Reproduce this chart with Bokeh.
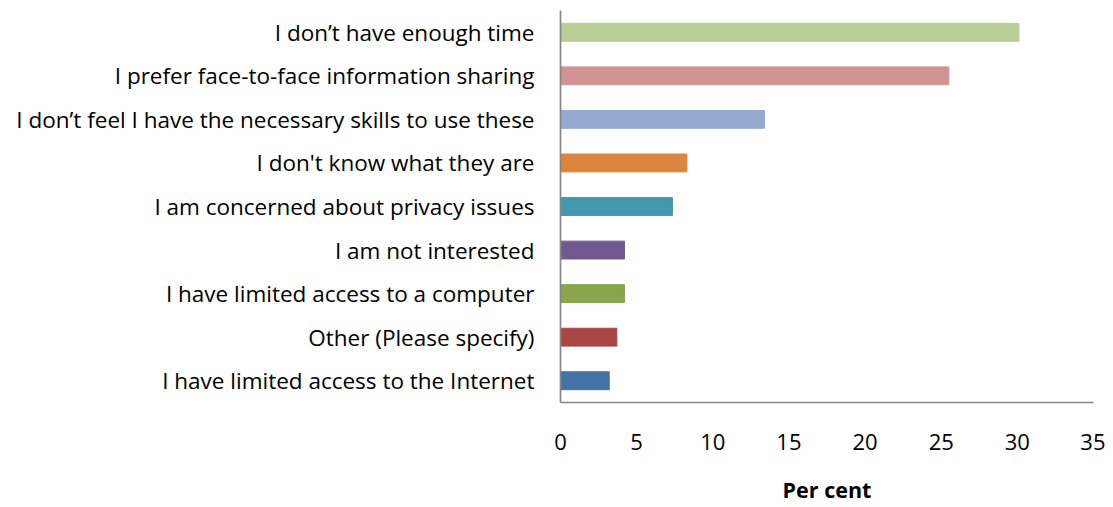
from bokeh.plotting import figure
from bokeh.models import ColumnDataSource, FactorRange, Range1d, FixedTicker
from bokeh.embed import file_html
from bokeh.resources import INLINE

categories = [
    "I have limited access to the Internet",
    "Other (Please specify)",
    "I have limited access to a computer",
    "I am not interested",
    "I am concerned about privacy issues",
    "I don't know what they are",
    "I don\u2019t feel I have the necessary skills to use these",
    "I prefer face-to-face information sharing",
    "I don\u2019t have enough time",
]
values = [3.2, 3.7, 4.2, 4.2, 7.35, 8.3, 13.4, 25.5, 30.1]
colors = ["#4572A7", "#AA4643", "#89A54E", "#71588F", "#4298AF",
          "#DC853F", "#95A9D1", "#D19392", "#B9CD96"]
x_ticks = [0, 5, 10, 15, 20, 25, 30, 35]

src = ColumnDataSource(dict(cat=categories, val=values, color=colors))

FONT = "Open Sans"
p = figure(width=1105, height=507, y_range=FactorRange(*categories, range_padding=0),
           x_range=Range1d(0, 35), output_backend="svg", toolbar_location=None,
           min_border_left=560, min_border_right=12, min_border_top=10, min_border_bottom=105)
p.hbar(y="cat", right="val", left=0, height=0.41, color="color", source=src)

p.outline_line_color = None
p.xgrid.grid_line_color = None
p.ygrid.grid_line_color = None

for ax in (p.xaxis[0], p.yaxis[0]):
    ax.axis_line_color = "#868686"
    ax.axis_line_width = 1.7
    ax.major_tick_line_color = None
    ax.minor_tick_line_color = None
    ax.major_label_text_font = FONT
    ax.major_label_text_color = "black"

p.yaxis.major_label_text_font_size = "22.5px"
p.xaxis.major_label_text_font_size = "22px"
p.xaxis.ticker = FixedTicker(ticks=x_ticks)
p.xaxis.major_label_standoff = 25
p.xaxis.axis_label = "Per cent"
p.xaxis.axis_label_text_font = FONT
p.xaxis.axis_label_text_font_style = "bold"
p.xaxis.axis_label_text_font_size = "21.5px"
p.xaxis.axis_label_text_color = "black"
p.xaxis.axis_label_standoff = 22
p.yaxis.major_label_standoff = 20

open("out.html", "w").write(file_html(p, INLINE))
